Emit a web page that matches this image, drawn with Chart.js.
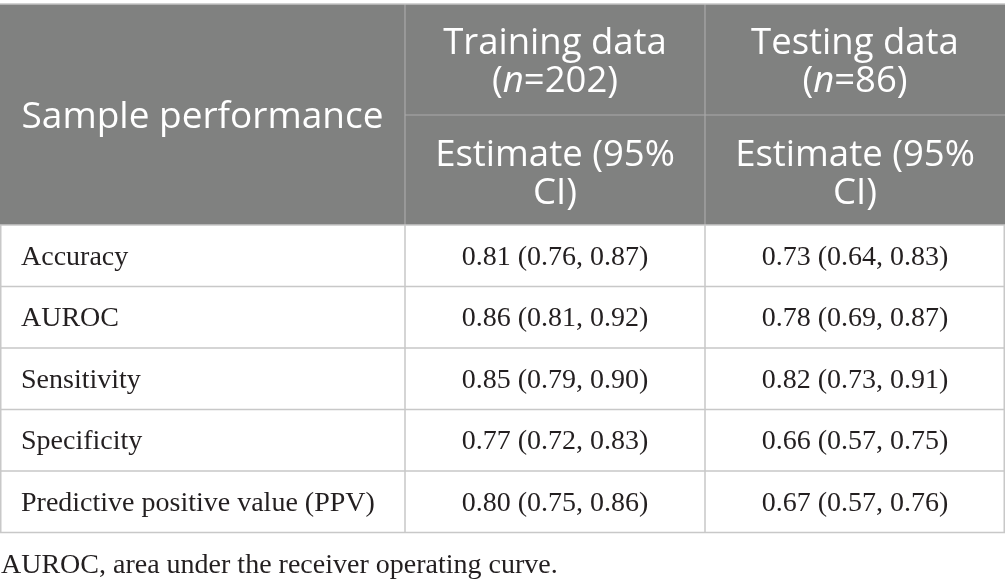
<!DOCTYPE html>
<html>
<head>
<meta charset="utf-8">
<script src="https://cdn.jsdelivr.net/npm/chart.js@4.4.0/dist/chart.umd.min.js"></script>
<style>
  html, body { margin: 0; padding: 0; background: #fff; }
  #wrap { width: 1005px; height: 584px; }
</style>
</head>
<body>
<div id="wrap"><canvas id="perfTable" width="1005" height="584"></canvas></div>
<script>
// --- données du tableau ---
const metrics = ["Accuracy", "AUROC", "Sensitivity", "Specificity", "Predictive positive value (PPV)"];
const trainingEst = ["0.81 (0.76, 0.87)", "0.86 (0.81, 0.92)", "0.85 (0.79, 0.90)", "0.77 (0.72, 0.83)", "0.80 (0.75, 0.86)"];
const testingEst = ["0.73 (0.64, 0.83)", "0.78 (0.69, 0.87)", "0.82 (0.73, 0.91)", "0.66 (0.57, 0.75)", "0.67 (0.57, 0.76)"];
const firstHead = "Sample performance";
const groupNames = ["Training data", "Testing data"];
const groupN = ["202", "86"];
const subHead = ["Estimate (95%", "CI)"];
const footnote = "AUROC, area under the receiver operating curve.";

// --- mise en page (px) ---
const colW = [405, 300, 300];
const headH = [111, 110];
const bodyH = 61.5;

const HEAD_FONT = '"Open Sans", sans-serif';
const BODY_FONT = '"Liberation Serif", serif';
const HEAD_BG = "#808180";
const GRID = "#c8c8c8";
const TEXT = "#231f20";

const totalW = colW.reduce((a, b) => a + b, 0);
const rowH = headH.concat(metrics.map(() => bodyH));
const totalH = rowH.reduce((a, b) => a + b, 0);
const colEdges = [0];
colW.forEach(w => colEdges.push(colEdges[colEdges.length - 1] + w));
const rowEdges = [0];
rowH.forEach(h => rowEdges.push(rowEdges[rowEdges.length - 1] + h));

// texte avec segments (italique pour n)
function drawRich(ctx, segs, cx, y, size) {
    let w = 0;
    segs.forEach(s => {
        ctx.font = (s.i ? "italic " : "") + size + "px " + HEAD_FONT;
        w += ctx.measureText(s.t).width;
    });
    let x = cx - w / 2;
    segs.forEach(s => {
        ctx.font = (s.i ? "italic " : "") + size + "px " + HEAD_FONT;
        ctx.fillText(s.t, x, y);
        x += ctx.measureText(s.t).width;
    });
}

const tablePlugin = {
    id: "tablePlugin",
    afterDraw(chart) {
        const ctx = chart.ctx;
        const xs = chart.scales.x, ys = chart.scales.y;
        const X = v => xs.getPixelForValue(v);
        const Y = v => ys.getPixelForValue(v);
        const headBottom = Y(rowEdges[2]);

        ctx.save();
        // fond de l'en-tête
        ctx.fillStyle = HEAD_BG;
        ctx.fillRect(X(0), Y(0), X(totalW) - X(0), headBottom - Y(0));

        // lignes de l'en-tête
        ctx.strokeStyle = "#a9a9a9";
        ctx.lineWidth = 1.2;
        ctx.beginPath();
        [colEdges[1], colEdges[2]].forEach(c => { ctx.moveTo(X(c), Y(0)); ctx.lineTo(X(c), headBottom); });
        ctx.moveTo(X(colEdges[1]), Y(rowEdges[1]));
        ctx.lineTo(X(totalW), Y(rowEdges[1]));
        ctx.stroke();

        // bordure supérieure
        ctx.strokeStyle = "#c4c4c4";
        ctx.lineWidth = 1.5;
        ctx.beginPath();
        ctx.moveTo(X(0), Y(0)); ctx.lineTo(X(totalW), Y(0));
        ctx.stroke();

        // grille du corps
        ctx.strokeStyle = GRID;
        ctx.lineWidth = 1.5;
        ctx.beginPath();
        for (let r = 2; r < rowEdges.length; r++) {
            ctx.moveTo(X(0), Y(rowEdges[r])); ctx.lineTo(X(totalW), Y(rowEdges[r]));
        }
        colEdges.forEach((c, i) => {
            let px = X(c);
            if (i === 0) px += 0.75;
            if (i === colEdges.length - 1) px -= 0.75;
            ctx.moveTo(px, headBottom); ctx.lineTo(px, Y(totalH));
        });
        ctx.stroke();

        // textes de l'en-tête
        const hs = 36.5;
        ctx.fillStyle = "#ffffff";
        ctx.textBaseline = "alphabetic";
        ctx.textAlign = "left";
        const c0 = (X(colEdges[0]) + X(colEdges[1])) / 2;
        drawRich(ctx, [{ t: firstHead }], c0, (Y(0) + headBottom) / 2 + 0.38 * hs, 37);
        const lh = 38;
        for (let g = 0; g < 2; g++) {
            const cx = (X(colEdges[g + 1]) + X(colEdges[g + 2])) / 2;
            const m0 = (Y(rowEdges[0]) + Y(rowEdges[1])) / 2 + 0.37 * hs;
            drawRich(ctx, [{ t: groupNames[g] }], cx, m0 - lh / 2, hs);
            drawRich(ctx, [{ t: "(" }, { t: "n", i: true }, { t: "=" + groupN[g] + ")" }], cx, m0 + lh / 2, hs);
            const m1 = (Y(rowEdges[1]) + Y(rowEdges[2])) / 2 + 0.4 * hs;
            drawRich(ctx, [{ t: subHead[0] }], cx, m1 - lh / 2, hs);
            drawRich(ctx, [{ t: subHead[1] }], cx, m1 + lh / 2, hs);
        }

        // textes du corps
        const bs = 28;
        ctx.fillStyle = TEXT;
        ctx.font = bs + "px " + BODY_FONT;
        metrics.forEach((m, i) => {
            const cy = (Y(rowEdges[i + 2]) + Y(rowEdges[i + 3])) / 2 + 0.33 * bs;
            ctx.textAlign = "left";
            ctx.fillText(m, X(colEdges[0]) + 21, cy);
            ctx.textAlign = "center";
            ctx.fillText(trainingEst[i], (X(colEdges[1]) + X(colEdges[2])) / 2, cy);
            ctx.fillText(testingEst[i], (X(colEdges[2]) + X(colEdges[3])) / 2, cy);
        });

        // note de bas de tableau
        ctx.textAlign = "left";
        ctx.fillText(footnote, X(0) + 1, Y(totalH) + 40);
        ctx.restore();
    }
};

new Chart(document.getElementById("perfTable").getContext("2d"), {
    type: "scatter",
    data: { datasets: [{ data: [] }] },
    options: {
        responsive: false,
        animation: false,
        devicePixelRatio: 1,
        layout: { padding: { top: 4, bottom: 584 - 4 - totalH, left: 0, right: 0 } },
        plugins: { legend: { display: false }, tooltip: { enabled: false } },
        scales: {
            x: { type: "linear", min: 0, max: totalW, display: false },
            y: { type: "linear", min: 0, max: totalH, reverse: true, display: false }
        }
    },
    plugins: [tablePlugin]
});
</script>
</body>
</html>
